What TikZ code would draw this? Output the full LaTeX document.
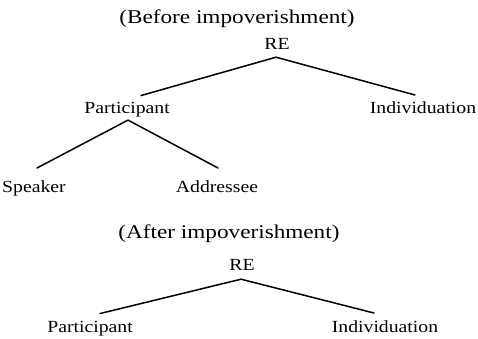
\documentclass[tikz,border=0pt]{standalone}
\usepackage{fontspec}
\setmainfont{Liberation Serif}
\newfontfamily\titlefont[FakeStretch=1.19]{Liberation Serif}
\newfontfamily\labelfont[FakeStretch=1.16]{Liberation Serif}
\begin{document}
\begin{tikzpicture}[x=1pt,y=-1pt,
  lbl/.style={font=\labelfont\fontsize{17}{19}\selectfont, anchor=base, inner sep=0pt},
  ttl/.style={font=\titlefont\fontsize{19.5}{22}\selectfont, anchor=base, inner sep=0pt},
  edge/.style={line width=1.5pt, line cap=round}]
\useasboundingbox (0,0) rectangle (478,339);
% before
\node[ttl] (t1) at (237,24) {(Before impoverishment)};
\node[lbl] (re1) at (277,50) {RE};
\node[lbl] (p1) at (127,114) {Participant};
\node[lbl] (i1) at (423,114) {Individuation};
\node[lbl] (sp) at (34,192) {Speaker};
\node[lbl] (ad) at (217,192) {Addressee};
\draw[edge] ([xshift=14pt,yshift=7pt]p1.north) -- ([xshift=-1pt,yshift=-7pt]re1.south) -- ([xshift=-8pt,yshift=7pt]i1.north);
\draw[edge] ([xshift=3pt,yshift=12pt]sp.north) -- ([xshift=1pt,yshift=-2.3pt]p1.south) -- ([xshift=1pt,yshift=12pt]ad.north);
% after
\node[ttl] (t2) at (229,238) {(After impoverishment)};
\node[lbl] (re2) at (242,270) {RE};
\node[lbl] (p2) at (90,332) {Participant};
\node[lbl] (i2) at (385,332) {Individuation};
\draw[edge] ([xshift=10pt,yshift=7pt]p2.north) -- ([xshift=-1pt,yshift=-9pt]re2.south) -- ([xshift=-11pt,yshift=7pt]i2.north);
\end{tikzpicture}
\end{document}
